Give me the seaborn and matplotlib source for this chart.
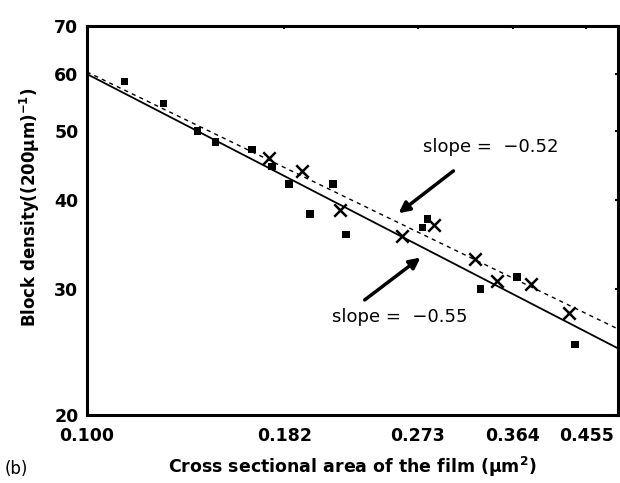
import matplotlib
matplotlib.use("Agg")
import matplotlib.pyplot as plt
from matplotlib.ticker import FixedLocator, FixedFormatter, NullLocator
import numpy as np
import pandas as pd
import seaborn as sns

# measured points (filled squares)
sq_x = [0.1122, 0.1262, 0.1398, 0.1477, 0.1651, 0.1754, 0.1847, 0.2109, 0.1967,
        0.2194, 0.2768, 0.2810, 0.3298, 0.3688, 0.4395]
sq_y = [58.5, 54.6, 49.9, 48.2, 47.0, 44.5, 42.1, 42.1, 38.2,
        35.8, 36.6, 37.6, 30.0, 31.2, 25.1]

# second set (crosses)
cr_x = [0.1738, 0.1920, 0.2154, 0.2598, 0.2870, 0.3249, 0.3472, 0.3848, 0.4316]
cr_y = [45.8, 43.9, 38.7, 35.6, 36.9, 33.1, 30.8, 30.5, 27.8]

# fitted power-law lines (end points)
fit_x = [0.1, 0.5]
solid_y = [60.0, 24.8]
dashed_y = [60.4, 26.4]

x_ticks = [0.100, 0.182, 0.273, 0.364, 0.455]
x_labels = ["0.100", "0.182", "0.273", "0.364", "0.455"]
y_ticks = [20, 30, 40, 50, 60, 70]

sq = pd.DataFrame({"x": sq_x, "y": sq_y})
cr = pd.DataFrame({"x": cr_x, "y": cr_y})
fit = pd.DataFrame({"x": fit_x, "solid": solid_y, "dashed": dashed_y})

sns.set_style("white")
plt.rcParams["mathtext.fontset"] = "dejavusans"
plt.rcParams["text.color"] = "black"
plt.rcParams["axes.labelcolor"] = "black"

fig = plt.figure(figsize=(6.2, 4.83), dpi=100)
ax = fig.add_axes([0.140, 0.141, 0.856, 0.805])

sns.lineplot(data=fit, x="x", y="solid", ax=ax, color="black", lw=1.3)
sns.lineplot(data=fit, x="x", y="dashed", ax=ax, color="black", lw=1.0,
             linestyle=(0, (3, 3)))
sns.scatterplot(data=sq, x="x", y="y", ax=ax, marker="s", s=28, color="black",
                edgecolor="none")
sns.scatterplot(data=cr, x="x", y="y", ax=ax, marker="x", s=80, color="black",
                linewidth=1.8)

ax.set_xscale("log")
ax.set_yscale("log")
ax.set_xlim(0.1, 0.5)
ax.set_ylim(20, 70)

ax.xaxis.set_major_locator(FixedLocator(x_ticks))
ax.xaxis.set_major_formatter(FixedFormatter(x_labels))
ax.yaxis.set_major_locator(FixedLocator(y_ticks))
ax.yaxis.set_major_formatter(FixedFormatter([str(v) for v in y_ticks]))
ax.xaxis.set_minor_locator(NullLocator())
ax.yaxis.set_minor_locator(NullLocator())

ax.tick_params(which="major", direction="in", length=2.5, width=1.5,
               top=True, right=True, labelsize=12.5, pad=6, colors="black")
ax.tick_params(axis="x", pad=9)
for lab in ax.get_xticklabels() + ax.get_yticklabels():
    lab.set_fontweight("bold")

for sp in ax.spines.values():
    sp.set_visible(True)
    sp.set_linewidth(2.2)
    sp.set_color("black")

ax.set_xlabel(r"Cross sectional area of the film ($\mathbf{\mu m^2}$)",
              fontsize=12.5, fontweight="bold", labelpad=7)
ax.set_ylabel(r"Block density((200$\mathbf{\mu}$m)$\mathbf{^{-1}}$)",
              fontsize=12, fontweight="bold", labelpad=8)
ax.yaxis.set_label_coords(-0.085, 0.535)

# slope annotations
ax.text(0.2776, 47.4, "slope =  \u22120.52", fontsize=13, va="center", ha="left")
ax.text(0.2103, 27.4, "slope =  \u22120.55", fontsize=13, va="center", ha="left")
ax.annotate("", xy=(0.2574, 38.3), xytext=(0.304, 43.9),
            arrowprops=dict(arrowstyle="-|>", lw=2.5, color="black",
                            mutation_scale=16, shrinkA=0, shrinkB=0))
ax.annotate("", xy=(0.2751, 33.2), xytext=(0.2323, 28.97),
            arrowprops=dict(arrowstyle="-|>", lw=2.5, color="black",
                            mutation_scale=16, shrinkA=0, shrinkB=0))

fig.text(0.008, 0.03, "(b)", fontsize=12, ha="left", va="center")

fig.savefig("out.png", dpi=100)
